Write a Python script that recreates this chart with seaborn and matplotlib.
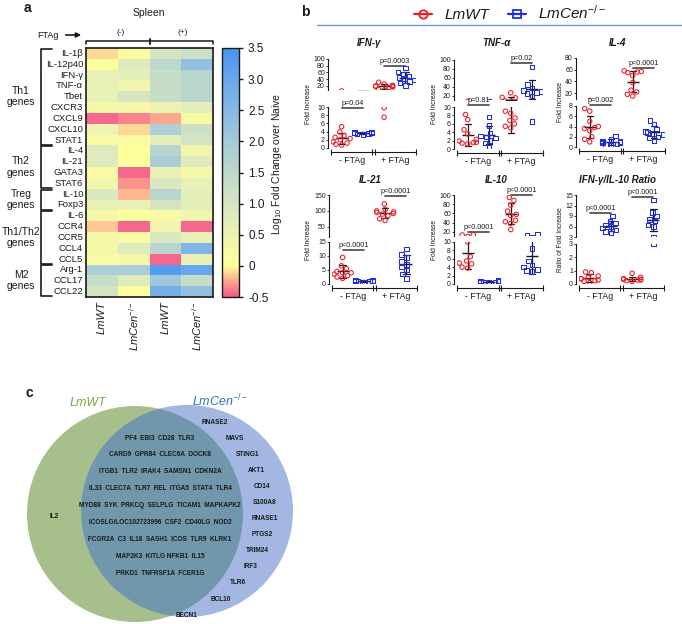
import numpy as np
import pandas as pd
import matplotlib
matplotlib.use("Agg")
import matplotlib.pyplot as plt
import seaborn as sns
from matplotlib.colors import LinearSegmentedColormap
from matplotlib.lines import Line2D
from matplotlib.patches import Circle, FancyArrowPatch

sns.set_theme(style="ticks", rc={"text.color": "k", "axes.labelcolor": "k",
                                 "xtick.color": "k", "ytick.color": "k", "axes.edgecolor": "k"})
plt.rcParams["font.family"] = ["Liberation Sans", "DejaVu Sans"]
plt.rcParams["mathtext.fontset"] = "custom"
plt.rcParams["mathtext.rm"] = "Liberation Sans"
plt.rcParams["mathtext.it"] = "Liberation Sans:italic"
plt.rcParams["mathtext.bf"] = "Liberation Sans:bold"

# -------------------------
# Panel a data (log10 fold change over naive)
# -------------------------
genes = ["IL-1β", "IL-12p40", "IFN-γ", "TNF-α", "Tbet", "CXCR3", "CXCL9", "CXCL10", "STAT1",
         "IL-4", "IL-21", "GATA3", "STAT6", "IL-10", "Foxp3", "IL-6", "CCR4", "CCR5", "CCL4",
         "CCL5", "Arg-1", "CCL17", "CCL22"]
wt_minus = [-0.1, 0.05, 0.6, 0.6, 0.6, 0.3, -0.45, 0.5, 0.2, 0.8, 0.8, 0.2, 0.4, 0.9, 0.6,
            0.3, -0.15, 0.3, 0.3, 0.2, 1.9, 1.3, 1.0]
cen_minus = [0.15, 0.8, 0.7, 0.4, 1.0, 0.3, -0.35, -0.1, 0.2, 0.0, 0.1, -0.45, -0.3, -0.2, 0.6,
             0.1, -0.45, 0.2, 0.8, 0.3, 1.9, 0.8, 0.1]
wt_plus = [1.0, 1.5, 1.3, 1.3, 1.3, 0.5, -0.25, 1.8, 0.7, 1.6, 1.9, 0.6, 0.9, 1.6, 1.0,
           0.2, 0.4, 0.9, 1.6, -0.45, 3.3, 2.1, 2.8]
cen_plus = [1.2, 2.3, 1.6, 1.6, 1.6, 0.7, 0.25, 1.2, 1.0, 0.4, 0.8, 0.3, 0.6, 0.7, 0.7,
            0.4, -0.45, 0.6, 2.6, 0.6, 3.0, 1.3, 2.3]
hm_cols = ["LmWT", "LmCen$^{-/-}$", "LmWT", "LmCen$^{-/-}$"]
group_names = ["Th1\ngenes", "Th2\ngenes", "Treg\ngenes", "Th1/Th2\ngenes", "M2\ngenes"]
group_sizes = [9, 4, 2, 5, 3]
cb_ticks = [-0.5, 0, 0.5, 1.0, 1.5, 2.0, 2.5, 3.0, 3.5]
cb_labels = ["-0.5", "0", "0.5", "1.0", "1.5", "2.0", "2.5", "3.0", "3.5"]

# -------------------------
# Panel b data (fold increase): WT -FTAg, Cen -FTAg, WT +FTAg, Cen +FTAg
# -------------------------
groups = ["WT-", "Cen-", "WT+", "Cen+"]
strains = ["LmWT", "LmCen", "LmWT", "LmCen"]
IFNG = ([5.2, 3.9, 3.0, 2.6, 2.3, 2.0, 1.5, 1.2, 0.9, 0.7],
        [3.9, 3.8, 3.7, 3.6, 3.5, 3.4, 3.3, 3.6],
        [31, 26, 22, 20, 19, 18, 17, 16, 9.8, 7.5],
        [74, 62, 56, 50, 45, 40, 38, 33, 28, 22])
TNFA = ([8.2, 7.0, 4.6, 3.6, 2.3, 1.9, 1.6, 1.4, 1.2, 1.5],
        [7.6, 5.6, 3.8, 3.1, 2.6, 2.0, 1.4, 0.5, 2.9],
        [27, 17, 16, 9.0, 8.5, 7.4, 6.8, 6.0, 5.4, 5.0],
        [85, 45, 38, 32, 30, 28, 25, 20, 6.5])
IL4 = ([7.5, 7.0, 5.0, 4.0, 3.8, 3.6, 2.0, 1.5, 1.0, 3.2],
       [2.2, 1.5, 1.2, 1.0, 0.9, 0.8, 0.6, 0.5, 0.4, 1.1],
       [58, 57, 56, 55, 50, 38, 25, 22, 18, 15],
       [5.2, 4.5, 3.5, 3.0, 2.8, 2.6, 2.4, 2.0, 1.8, 1.2])
IL21 = ([9.5, 6.5, 5.5, 4.5, 4.0, 3.5, 3.0, 2.5, 2.0, 4.0],
        [1.4, 1.3, 1.2, 1.1, 1.0, 1.0, 0.9, 0.8, 0.9, 1.1],
        [122, 105, 100, 97, 95, 92, 90, 85, 75, 70],
        [12.5, 10.5, 9.5, 8.0, 7.0, 6.0, 5.0, 3.5, 2.0])
IL10 = ([13.5, 13.2, 10.0, 6.5, 5.5, 5.0, 4.8, 4.0, 3.8],
        [0.8, 0.7, 0.6, 0.6, 0.5, 0.5, 0.4, 0.5, 0.6],
        [95, 88, 78, 65, 58, 55, 45, 42, 38, 25],
        [14, 13.5, 8.5, 5.5, 4.5, 4.0, 3.5, 3.2, 3.0])
RATIO = ([0.9, 0.85, 0.6, 0.5, 0.4, 0.3, 0.25, 0.2, 0.1, 0.4],
         [9.0, 7.6, 7.0, 6.5, 6.0, 5.5, 5.0, 4.6, 4.2],
         [0.8, 0.5, 0.4, 0.35, 0.3, 0.3, 0.25, 0.2, 0.35],
         [13.5, 10.0, 9.0, 8.0, 7.5, 6.5, 6.0, 3.0])

# p-value label, first group index of the pair, height of bar
P_IFNG = [("p=0.04", 0, 9.8), ("p=0.0003", 2, 79)]
P_TNFA = [("p=0.81", 0, 10.4), ("p=0.02", 2, 94)]
P_IL4 = [("p=0.002", 0, 8.1), ("p<0.0001", 2, 63)]
P_IL21 = [("p<0.0001", 0, 12.1), ("p<0.0001", 2, 147)]
P_IL10 = [("p<0.0001", 0, 20), ("p<0.0001", 2, 99)]
P_RATIO = [("p<0.0001", 0, 9.9), ("p<0.0001", 2, 14.4)]

# -------------------------
# Panel c data (Venn)
# -------------------------
shared_genes = ["PF4  EBI3  CD28  TLR3",
                "CARD9  GPR84  CLEC6A  DOCK8",
                "ITGB1  TLR2  IRAK4  SAMSN1  CDKN2A",
                "IL33  CLEC7A  TLR7  REL  ITGA5  STAT4  TLR4",
                "MYD88  SYK  PRKCQ  SELPLG  TICAM1  MAPKAPK2",
                "ICOSLG/LOC102723996  CSF2  CD40LG  NOD2",
                "FCGR2A  C3  IL18  SASH1  ICOS  TLR9  KLRK1",
                "MAP2K3  KITLG NFKB1  IL15",
                "PRKD1  TNFRSF1A  FCER1G"]
cen_only = ["RNASE2", "MAVS", "STING1", "AKT1", "CD14", "S100A8", "RNASE1", "PTGS2",
            "TRIM24", "IRF3", "TLR6", "BCL10", "BECN1"]
wt_only = ["IL2"]

# -------------------------
# Figure helpers (pixel coordinates)
# -------------------------
W, H = 682, 624
fig = plt.figure(figsize=(W / 100, H / 100), dpi=100)


def rect(x0, y0, x1, y1):
    return [x0 / W, 1 - y1 / H, (x1 - x0) / W, (y1 - y0) / H]


def px(x, y):
    return (x / W, 1 - y / H)


def fline(xs, ys, **kw):
    kw.setdefault("color", "k")
    fig.add_artist(Line2D([x / W for x in xs], [1 - y / H for y in ys],
                          transform=fig.transFigure, **kw))


def ftext(x, y, s, **kw):
    fig.text(x / W, 1 - y / H, s, **kw)


RED = "#ee1c25"
BLUE = "#1f2fe0"

# -------------------------
# Panel a: heatmap
# -------------------------
cmap = LinearSegmentedColormap.from_list("fc", [
    (0.0, "#f5588c"), (0.06, "#fca38f"), (0.125, "#ffff99"), (0.25, "#eef3b3"),
    (0.375, "#d5e5c2"), (0.5, "#bdd8cc"), (0.625, "#a5cad8"), (0.75, "#88b9e4"),
    (1.0, "#4895f2")])

hm_df = pd.DataFrame({"WT-": wt_minus, "Cen-": cen_minus, "WT+": wt_plus, "Cen+": cen_plus},
                     index=genes)
HM_TOP, HM_BOT = 48, 297
ax_hm = fig.add_axes(rect(86, HM_TOP, 213, HM_BOT))
ax_cb = fig.add_axes(rect(222, HM_TOP, 239, HM_BOT))
sns.heatmap(hm_df, ax=ax_hm, cbar_ax=ax_cb, cmap=cmap, vmin=-0.5, vmax=3.5,
            xticklabels=hm_cols, yticklabels=genes, cbar_kws={"ticks": cb_ticks})
for s in ax_hm.spines.values():
    s.set_visible(True)
    s.set_linewidth(1.2)
ax_hm.tick_params(axis="y", length=0, labelsize=6.8, pad=2, rotation=0)
ax_hm.tick_params(axis="x", length=0, labelsize=8, pad=3)
for lab in ax_hm.get_xticklabels():
    lab.set_rotation(90)
    lab.set_fontstyle("italic")
ax_hm.set_xlabel("")
ax_hm.set_ylabel("")
cbar = ax_hm.collections[0].colorbar
cbar.outline.set_linewidth(1)
cbar.outline.set_edgecolor("k")
ax_cb.set_yticklabels(cb_labels)
ax_cb.tick_params(labelsize=8.5, length=3, width=1)
ftext(277, 164, "Log$_{10}$ Fold Change over Naive", rotation=90, ha="center", va="center",
      fontsize=7.5)

# gene group brackets
row_h = (HM_BOT - HM_TOP) / len(genes)
start = 0
for name, n in zip(group_names, group_sizes):
    y0 = HM_TOP + start * row_h + 0.8
    y1 = HM_TOP + (start + n) * row_h - 0.8
    fline([52, 41, 41, 52], [y0, y0, y1, y1], lw=1.2)
    ftext(21, (y0 + y1) / 2, name, ha="center", va="center", fontsize=7.5, linespacing=1.15)
    start += n

# FTAg header
ftext(149, 13, "Spleen", ha="center", va="center", fontsize=7.5)
ftext(48, 35, "FTAg", ha="center", va="center", fontsize=6.5)
fig.add_artist(FancyArrowPatch(px(63, 35), px(84, 35), transform=fig.transFigure,
                               arrowstyle="-|>", mutation_scale=7, lw=1.2, color="k"))
fline([86, 86, 213, 213], [44, 41, 41, 44], lw=1.1)
fline([149.5, 149.5], [39, 44], lw=1.4)
ftext(121, 32, "(-)", ha="center", va="center", fontsize=6)
ftext(183, 32, "(+)", ha="center", va="center", fontsize=6)
ftext(27, 8, "a", ha="center", va="center", fontsize=10, fontweight="bold")

# -------------------------
# Panel b: dot plots with broken y axes
# -------------------------
layouts = [
    dict(x=(331, 416), up=(59, 90), lo=(107, 148), up_lim=(8, 100), up_ticks=[20, 40, 60, 80, 100],
         lo_lim=(0, 10), lo_ticks=[0, 2, 4, 6, 8, 10], ty=43, lx=309),
    dict(x=(457, 543), up=(60, 100), lo=(107, 149), up_lim=(11, 100), up_ticks=[20, 40, 60, 80, 100],
         lo_lim=(0, 10), lo_ticks=[0, 2, 4, 6, 8, 10], ty=43, lx=435),
    dict(x=(579, 665), up=(58, 99), lo=(106, 147), up_lim=(10, 80), up_ticks=[20, 40, 60, 80],
         lo_lim=(0, 8), lo_ticks=[0, 2, 4, 6, 8], ty=43, lx=560),
    dict(x=(332, 417), up=(195, 237), lo=(242, 284), up_lim=(18, 150), up_ticks=[50, 100, 150],
         lo_lim=(0, 15), lo_ticks=[0, 5, 10, 15], ty=180, lx=309),
    dict(x=(457, 543), up=(195, 236), lo=(242, 284), up_lim=(11, 100), up_ticks=[20, 40, 60, 80, 100],
         lo_lim=(0, 10), lo_ticks=[0, 2, 4, 6, 8, 10], ty=180, lx=435),
    dict(x=(579, 664), up=(195, 237), lo=(244, 284), up_lim=(3, 15), up_ticks=[3, 6, 9, 12, 15],
         lo_lim=(0, 3), lo_ticks=[0, 1, 2, 3], ty=180, lx=561),
]
panels = [("IFN-γ", IFNG, P_IFNG, "Fold Increase"),
          ("TNF-α", TNFA, P_TNFA, "Fold Increase"),
          ("IL-4", IL4, P_IL4, "Fold Increase"),
          ("IL-21", IL21, P_IL21, "Fold Increase"),
          ("IL-10", IL10, P_IL10, "Fold Increase"),
          ("IFN-γ/IL-10 Ratio", RATIO, P_RATIO, "Ratio of Fold Increase")]
strain_style = {"LmWT": (RED, "o"), "LmCen": (BLUE, "s")}

for (title, vals, pv, ylab), lay in zip(panels, layouts):
    recs = [(g, s, v) for g, s, vs in zip(groups, strains, vals) for v in vs]
    d = pd.DataFrame(recs, columns=["group", "strain", "value"])
    x0, x1 = lay["x"]
    ax_u = fig.add_axes(rect(x0, lay["up"][0], x1, lay["up"][1]))
    ax_l = fig.add_axes(rect(x0, lay["lo"][0], x1, lay["lo"][1]))
    for ax, lim, ticks in ((ax_u, lay["up_lim"], lay["up_ticks"]),
                           (ax_l, lay["lo_lim"], lay["lo_ticks"])):
        pad = 0.04 * (lim[1] - lim[0])
        inside = d[(d["value"] >= lim[0] - pad) & (d["value"] <= lim[1] + pad)]
        for strain, (col, mk) in strain_style.items():
            sub = inside[inside["strain"] == strain]
            if len(sub):
                sns.swarmplot(data=sub, x="group", y="value", order=groups, color=col,
                              marker=mk, size=3.2, linewidth=0.75, ax=ax)
        for coll in ax.collections:
            fc = coll.get_facecolor()
            coll.set_edgecolor(fc)
            coll.set_facecolor("none")
        sns.pointplot(data=d, x="group", y="value", order=groups, errorbar="sd", capsize=0.3,
                      color="k", marker="_", markersize=9, markeredgewidth=1,
                      linestyle="none", err_kws={"linewidth": 0.9}, ax=ax)
        ax.set_xlim(-0.5, 3.5)
        ax.set_ylim(*lim)
        ax.set_yticks(ticks)
        ax.set_yticklabels([str(t) for t in ticks])
        ax.set_xlabel("")
        ax.set_ylabel("")
        ax.tick_params(axis="y", labelsize=5, length=1.6, width=0.6, pad=0.6)
        for side in ("top", "right"):
            ax.spines[side].set_visible(False)
        ax.spines["left"].set_position(("outward", 2.2))
        ax.spines["left"].set_linewidth(0.8)

    ax_u.spines["bottom"].set_visible(False)
    ax_u.tick_params(axis="x", bottom=False, labelbottom=False)

    ax_l.spines["bottom"].set_position(("outward", 3))
    ax_l.spines["bottom"].set_linewidth(0.8)
    ax_l.spines["bottom"].set_bounds(-0.5, 3.5)
    ax_l.set_xticks([0.5, 2.5], ["- FTAg", "+ FTAg"])
    ax_l.set_xticks([-0.5, 1.45, 1.55, 3.5], minor=True)
    ax_l.tick_params(axis="x", which="major", length=0, labelsize=6.3, pad=3)
    ax_l.tick_params(axis="x", which="minor", length=4, width=0.8, direction="inout")

    for label, g0, yb in pv:
        ax = ax_l if yb <= lay["lo_lim"][1] * 1.06 else ax_u
        ax.plot([g0, g0 + 1], [yb, yb], color="#555555", lw=1.3, clip_on=False)
        ax.annotate(label, (g0 + 0.5, yb), xytext=(0, 0.8), textcoords="offset points",
                    ha="center", va="bottom", fontsize=5.2, annotation_clip=False)

    ftext((x0 + x1) / 2 - 4, lay["ty"], title, ha="center", va="center", fontsize=7,
          fontweight="bold", fontstyle="italic")
    ftext(lay["lx"], (lay["up"][0] + lay["lo"][1]) / 2, ylab, rotation=90, ha="center",
          va="center", fontsize=4.8)

# legend + separator line
handles = [Line2D([], [], color=RED, marker="o", mfc="none", mew=1.3, ms=6, lw=1.6),
           Line2D([], [], color=BLUE, marker="s", mfc="none", mew=1.3, ms=6, lw=1.6)]
fig.legend(handles, ["LmWT", "LmCen$^{-/-}$"], loc="center", bbox_to_anchor=px(510, 13),
           ncol=2, frameon=False, prop={"style": "italic", "size": 11}, handlelength=1.2,
           handletextpad=0.8, columnspacing=1.2, borderpad=0)
fline([317, 682], [25, 25], lw=1, color="#6a9be0")
ftext(305, 12, "b", ha="center", va="center", fontsize=10, fontweight="bold")

# -------------------------
# Panel c: Venn diagram
# -------------------------
ax_v = fig.add_axes(rect(0, 380, 300, 624))
ax_v.set_xlim(0, 300)
ax_v.set_ylim(624, 380)
ax_v.axis("off")
G_C, G_R = (135, 514), 108
B_C, B_R = (187, 511), 106
green = Circle(G_C, G_R, fc="#a7bf8b", ec="none")
blue = Circle(B_C, B_R, fc="#a4b7e2", ec="none")
inter = Circle(B_C, B_R, fc="#7097ab", ec="none")
ax_v.add_patch(green)
ax_v.add_patch(blue)
ax_v.add_patch(inter)
inter.set_clip_path(green)


def half_width(r, dy):
    return np.sqrt(max(r * r - dy * dy, 0))


gene_kw = dict(ha="center", va="center", fontsize=4.7, fontweight="bold", color="#1a1a1a")
for i, row in enumerate(shared_genes):
    ax_v.text(160, 438 + i * 16.9, row, **gene_kw)
for i, g in enumerate(cen_only):
    y = 422 + i * 16.1
    xr_g = G_C[0] + half_width(G_R, y - G_C[1])
    xr_b = B_C[0] + half_width(B_R, y - B_C[1])
    ax_v.text((xr_g + xr_b) / 2 - 3, y, g, **gene_kw)
for g in wt_only:
    y = 517
    xl_g = G_C[0] - half_width(G_R, y - G_C[1])
    xl_b = B_C[0] - half_width(B_R, y - B_C[1])
    ax_v.text((xl_g + xl_b) / 2, y, g, **gene_kw)

ax_v.text(88, 403, "LmWT", ha="center", va="center", fontsize=9, fontstyle="italic",
          color="#70ad47")
ax_v.text(220, 401, "LmCen$^{-/-}$", ha="center", va="center", fontsize=9,
          fontstyle="italic", color="#2e75b6")
ftext(29, 393, "c", ha="center", va="center", fontsize=10, fontweight="bold")

fig.savefig("out.png", dpi=100)
